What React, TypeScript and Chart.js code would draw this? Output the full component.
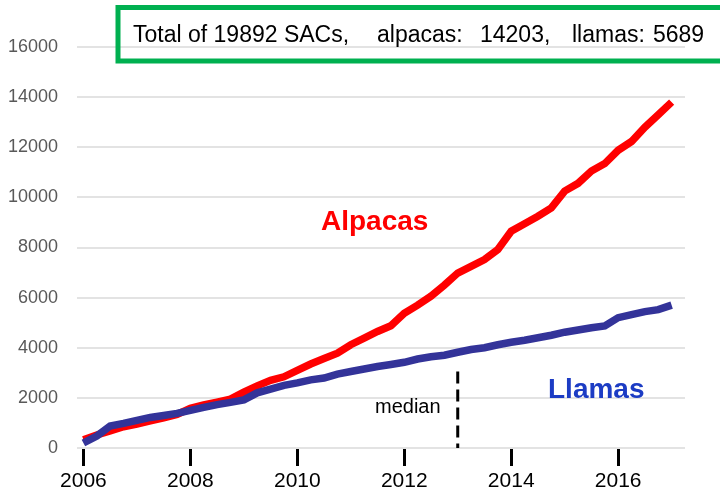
import React, { useEffect, useRef } from "react";
import { Chart, registerables } from "chart.js";

Chart.register(...registerables);

// Quarterly observation points (decimal years)
const years = [
  2006.0, 2006.25, 2006.5, 2006.75,
  2007.0, 2007.25, 2007.5, 2007.75,
  2008.0, 2008.25, 2008.5, 2008.75,
  2009.0, 2009.25, 2009.5, 2009.75,
  2010.0, 2010.25, 2010.5, 2010.75,
  2011.0, 2011.25, 2011.5, 2011.75,
  2012.0, 2012.25, 2012.5, 2012.75,
  2013.0, 2013.25, 2013.5, 2013.75,
  2014.0, 2014.25, 2014.5, 2014.75,
  2015.0, 2015.25, 2015.5, 2015.75,
  2016.0, 2016.25, 2016.5, 2016.75,
  2017.0,
];

const alpacas = [
  330, 520, 680, 850,
  950, 1080, 1200, 1340,
  1580, 1720, 1830, 1950,
  2230, 2480, 2700, 2840,
  3100, 3350, 3570, 3780,
  4120, 4380, 4650, 4880,
  5380, 5700, 6060, 6500,
  6980, 7250, 7520, 7920,
  8650, 8950, 9250, 9580,
  10250, 10560, 11050, 11350,
  11880, 12230, 12800, 13300,
  13800,
];

const llamas = [
  200, 480, 880, 980,
  1100, 1220, 1300, 1380,
  1500, 1620, 1730, 1820,
  1920, 2200, 2350, 2500,
  2600, 2720, 2790, 2950,
  3050, 3150, 3250, 3330,
  3420, 3550, 3640, 3700,
  3820, 3930, 4000, 4120,
  4220, 4300, 4400, 4500,
  4620, 4710, 4800, 4870,
  5200, 5320, 5440, 5520,
  5700,
];

const xTickYears = [2006, 2008, 2010, 2012, 2014, 2016];
const yTickValues = [0, 2000, 4000, 6000, 8000, 10000, 12000, 14000, 16000];
const medianYear = 2013;
const medianSpan = [3050, 0];

const titleParts: [string, number][] = [
  ["Total of 19892 SACs,", 133],
  ["alpacas:", 377],
  ["14203,", 480],
  ["llamas:", 572],
  ["5689", 653],
];

const FONT = '"Liberation Sans", Arial, Helvetica, sans-serif';

const annotationPlugin = {
  id: "sacAnnotations",
  afterDraw(chart: any) {
    const ctx = chart.ctx as CanvasRenderingContext2D;
    ctx.save();
    // green title box
    ctx.strokeStyle = "#00b050";
    ctx.lineWidth = 5;
    ctx.strokeRect(118, 7.5, 640, 53.5);
    ctx.fillStyle = "#000000";
    ctx.textAlign = "left";
    ctx.textBaseline = "alphabetic";
    ctx.font = `23px ${FONT}`;
    titleParts.forEach(([t, x]) => ctx.fillText(t, x, 42));
    // series labels
    ctx.font = `bold 28px ${FONT}`;
    ctx.fillStyle = "#ff0000";
    ctx.fillText("Alpacas", 321, 229.5);
    ctx.fillStyle = "#1c3cc4";
    ctx.fillText("Llamas", 548, 398);
    // median label
    ctx.font = `20px ${FONT}`;
    ctx.fillStyle = "#000000";
    ctx.fillText("median", 375, 413);
    ctx.restore();
  },
};

export default function App() {
  const ref = useRef<HTMLCanvasElement | null>(null);

  useEffect(() => {
    if (!ref.current) return;
    const chart = new Chart(ref.current, {
      type: "line",
      data: {
        datasets: [
          {
            label: "Llamas",
            data: years.map((x, i) => ({ x, y: llamas[i] })),
            borderColor: "#333399",
            backgroundColor: "#333399",
            borderWidth: 7.5,
            pointRadius: 0,
            tension: 0,
            order: 0,
          },
          {
            label: "Alpacas",
            data: years.map((x, i) => ({ x, y: alpacas[i] })),
            borderColor: "#ff0000",
            backgroundColor: "#ff0000",
            borderWidth: 7.5,
            pointRadius: 0,
            tension: 0,
            order: 1,
          },
          {
            label: "median",
            data: medianSpan.map((y) => ({ x: medianYear, y })),
            borderColor: "#000000",
            borderWidth: 3,
            borderDash: [12, 6],
            pointRadius: 0,
            order: 2,
          },
        ],
      },
      options: {
        responsive: false,
        animation: false,
        layout: { padding: { left: 0, right: 35, top: 47, bottom: 0 } },
        plugins: {
          legend: { display: false },
          tooltip: { enabled: false },
        },
        scales: {
          x: {
            type: "linear",
            min: 2005.88,
            max: 2017.25,
            border: { display: false },
            grid: {
              drawOnChartArea: false,
              drawTicks: true,
              tickLength: 18,
              tickWidth: 3,
              tickColor: "#000000",
            },
            afterBuildTicks: (scale: any) => {
              scale.ticks = xTickYears.map((v) => ({ value: v }));
            },
            afterFit: (scale: any) => {
              scale.height = 41;
            },
            ticks: {
              padding: 3,
              color: "#000000",
              font: { family: FONT, size: 21 },
              maxRotation: 0,
              autoSkip: false,
              callback: (v: any) => String(v),
            },
          },
          y: {
            min: 0,
            max: 16000,
            border: { display: false },
            grid: {
              color: "#e3e3e3",
              lineWidth: 2,
              drawTicks: false,
            },
            afterBuildTicks: (scale: any) => {
              scale.ticks = yTickValues.map((v) => ({ value: v }));
            },
            afterFit: (scale: any) => {
              scale.width = 77;
            },
            ticks: {
              padding: 19,
              color: "#595959",
              font: { family: FONT, size: 18 },
              callback: (v: any) => String(v),
            },
          },
        },
      },
      plugins: [annotationPlugin],
    });
    return () => chart.destroy();
  }, []);

  return (
    <div style={{ position: "fixed", left: 0, top: 0, width: 720, height: 489, background: "#ffffff" }}>
      <canvas ref={ref} width={720} height={489} style={{ display: "block" }} />
    </div>
  );
}
